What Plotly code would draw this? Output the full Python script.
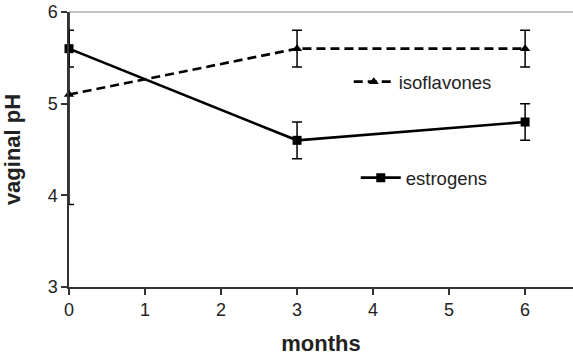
import plotly.graph_objects as go

months = [0, 3, 6]
estrogens = [5.6, 4.6, 4.8]
estrogens_err = [0.2, 0.2, 0.2]
isoflavones = [5.1, 5.6, 5.6]
isoflavones_err = [1.2, 0.2, 0.2]
x_ticks = [0, 1, 2, 3, 4, 5, 6]
y_ticks = [3, 4, 5, 6]

fig = go.Figure()
fig.add_trace(go.Scatter(
    x=months, y=isoflavones, name="isoflavones", legend="legend",
    mode="lines+markers", cliponaxis=False,
    line=dict(color="black", width=2.6, dash="9px,5px"),
    marker=dict(symbol="triangle-up", size=9, color="black"),
    error_y=dict(type="data", array=isoflavones_err, color="black", thickness=1.5, width=5),
))
fig.add_trace(go.Scatter(
    x=months, y=estrogens, name="estrogens", legend="legend2",
    mode="lines+markers", cliponaxis=False,
    line=dict(color="black", width=2.6),
    marker=dict(symbol="square", size=9, color="black"),
    error_y=dict(type="data", array=estrogens_err, color="black", thickness=1.5, width=5),
))

font = "Liberation Sans, Arial, sans-serif"
legend_common = dict(xanchor="left", yanchor="middle", bgcolor="rgba(0,0,0,0)",
                     itemwidth=40, font=dict(size=18.5, color="#222"))
fig.update_layout(
    width=573, height=356,
    margin=dict(l=69, r=0, t=12, b=69),
    paper_bgcolor="white", plot_bgcolor="white",
    font=dict(family=font, size=18, color="#222"),
    showlegend=True,
    legend=dict(x=0.555, y=0.745, **legend_common),
    legend2=dict(x=0.569, y=0.396, **legend_common),
    xaxis=dict(range=[0, 6.63], tickvals=x_ticks, showgrid=False, zeroline=False,
               showline=True, linecolor="#333", linewidth=1.5,
               ticks="outside", ticklen=6, tickcolor="#333", tickwidth=1.5,
               automargin=False,
               title=dict(text="<b>months</b>", standoff=22)),
    yaxis=dict(range=[3, 6], tickvals=y_ticks, showgrid=False, zeroline=False,
               showline=True, linecolor="#333", linewidth=1.5,
               ticks="outside", ticklen=6, tickcolor="#333", tickwidth=1.5,
               automargin=False,
               title=dict(text="<b>vaginal pH</b>", standoff=22)),
    shapes=[dict(type="line", xref="paper", yref="paper", x0=0, x1=1, y0=1, y1=1,
                 line=dict(color="#888", width=1.2))],
)

fig.write_html("out.html", config={"displayModeBar": False},
               post_script="document.body.style.margin='0';")
